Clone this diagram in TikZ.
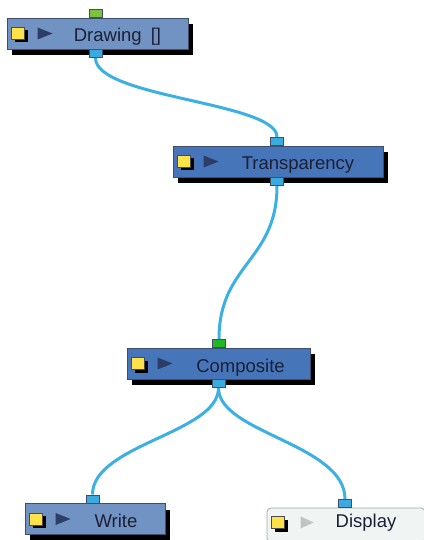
\documentclass[tikz,border=0pt]{standalone}
\usepackage{fontspec}
\setmainfont{Liberation Sans}
\usetikzlibrary{shadows}

\definecolor{boxlight}{HTML}{7093C3}
\definecolor{boxdark}{HTML}{4775BA}
\definecolor{boxline}{HTML}{3F4E6E}
\definecolor{wire}{HTML}{3CB0E2}
\definecolor{portblue}{HTML}{3AAADF}
\definecolor{portgreen}{HTML}{22B822}
\definecolor{portlime}{HTML}{7DC23F}
\definecolor{labeltext}{HTML}{1C2035}
\definecolor{iconyellow}{HTML}{FDE24A}
\definecolor{playmark}{HTML}{2C3D66}
\definecolor{playgrey}{HTML}{BFC4C4}
\definecolor{displayfill}{HTML}{F0F5F4}
\definecolor{displayline}{HTML}{A3ABAB}

\tikzset{
  modbox/.style={draw=boxline, line width=0.8pt, minimum height=31pt, inner sep=0pt,
    drop shadow={shadow xshift=4.5pt, shadow yshift=-6pt, fill=black, opacity=1}},
  modtext/.style={font=\fontsize{18.5}{20}\selectfont, text=labeltext, inner sep=0pt,
    anchor=base},
  port/.style={draw=boxline, line width=0.6pt, fill=portblue, minimum width=13pt,
    minimum height=8pt, inner sep=0pt},
  yelsq/.style={draw=black!70, line width=0.4pt, fill=iconyellow, minimum width=13pt,
    minimum height=12pt, inner sep=0pt,
    drop shadow={shadow xshift=3pt, shadow yshift=-3pt, fill=black, opacity=1}},
  wirepath/.style={draw=wire, line width=3pt}
}

\begin{document}
\begin{tikzpicture}[x=1pt, y=-1pt]
  \useasboundingbox (0,0) rectangle (423,540);

  % module boxes
  \node[modbox, fill=boxlight, minimum width=181pt] (drawing) at (97.5,33.5) {};
  \node[modbox, fill=boxdark, minimum width=210pt] (transparency) at (278,161.5) {};
  \node[modbox, fill=boxdark, minimum width=183pt] (composite) at (218.5,363.5) {};
  \node[modbox, fill=boxlight, minimum width=140pt] (write) at (95,519) {};
  \node[draw=displayline, fill=displayfill, line width=0.8pt, rounded corners=4pt,
        minimum width=158pt, minimum height=34pt, inner sep=0pt] (display) at (346,525) {};

  % labels
  \node[modtext] at ([xshift=20pt,yshift=-8.5pt]drawing.center) {Drawing\hspace{4pt} []};
  \node[modtext] at ([xshift=20pt,yshift=-8.5pt]transparency.center) {Transparency};
  \node[modtext] at ([xshift=22pt,yshift=-8.5pt]composite.center) {Composite};
  \node[modtext] at ([xshift=21pt,yshift=-8pt]write.center) {Write};
  \node[modtext] at ([xshift=20pt,yshift=-2pt]display.center) {Display};

  % icons
  \foreach \m in {drawing,transparency,composite,write} {
    \node[yelsq] at ([xshift=11.5pt]\m.west) {};
    \fill[playmark] ([xshift=31pt,yshift=6pt]\m.west) -- ++(0,12) -- ++(15,-6) -- cycle;
  }
  \node[yelsq] at ([xshift=11.5pt,yshift=2.5pt]display.west) {};
  \fill[playgrey] ([xshift=34pt,yshift=8.5pt]display.west) -- ++(0,12) -- ++(13,-6) -- cycle;

  % ports
  \node[port, fill=portlime, anchor=south] (drawing-in) at ([xshift=-2pt]drawing.north) {};
  \node[port, anchor=north] (drawing-out) at ([xshift=-2pt]drawing.south) {};
  \node[port, anchor=south] (transparency-in) at ([xshift=-1pt]transparency.north) {};
  \node[port, anchor=north] (transparency-out) at ([xshift=-1pt]transparency.south) {};
  \node[port, fill=portgreen, anchor=south] (composite-in) at ([xshift=0.5pt]composite.north) {};
  \node[port, anchor=north] (composite-out) at (composite.south) {};
  \node[port, anchor=south] (write-in) at ([xshift=-2.5pt]write.north) {};
  \node[port, anchor=south] (display-in) at ([xshift=-1pt]display.north) {};

  % wires
  \draw[wirepath] (drawing-out.south) .. controls +(0,40) and +(0,-35) .. (transparency-in.north);
  \draw[wirepath] (transparency-out.south) .. controls +(0,75) and +(0,-75) .. (composite-in.north);
  \draw[wirepath] (composite-out.south) .. controls +(0,45) and +(0,-50) .. (write-in.north);
  \draw[wirepath] (composite-out.south) .. controls +(0,45) and +(0,-55) .. (display-in.north);
\end{tikzpicture}
\end{document}
